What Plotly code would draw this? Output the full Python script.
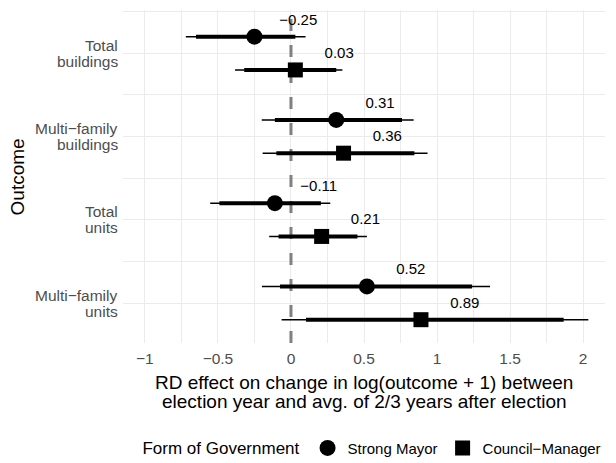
import plotly.graph_objects as go

# Outcomes, top to bottom (each label split over two lines)
outcome_line1 = ["Total", "Multi\u2212family", "Total", "Multi\u2212family"]
outcome_line2 = ["buildings", "buildings", "units", "units"]
outcome_pos = [4, 3, 2, 1]

# Strong Mayor estimates with 90% (inner) and 95% (outer) intervals
sm_est = [-0.25, 0.31, -0.11, 0.52]
sm_lo90 = [-0.65, -0.11, -0.49, -0.075]
sm_hi90 = [0.03, 0.76, 0.205, 1.24]
sm_lo95 = [-0.72, -0.20, -0.553, -0.199]
sm_hi95 = [0.10, 0.84, 0.269, 1.363]

# Council-Manager estimates with 90% (inner) and 95% (outer) intervals
cm_est = [0.03, 0.36, 0.21, 0.89]
cm_lo90 = [-0.32, -0.10, -0.085, 0.103]
cm_hi90 = [0.31, 0.845, 0.455, 1.867]
cm_lo95 = [-0.383, -0.194, -0.149, -0.064]
cm_hi95 = [0.352, 0.935, 0.52, 2.036]

x_ticks = [-1, -0.5, 0, 0.5, 1, 1.5, 2]
x_ticklabels = ["\u22121", "\u22120.5", "0", "0.5", "1", "1.5", "2"]

X_RANGE = [-1.15, 2.15]
Y_RANGE = [0.52, 4.52]
DODGE = 0.2
NUDGE_X = 0.3
NUDGE_Y = 0.19
FONT = "Liberation Sans"
GRID = "#EBEBEB"
AXIS_TEXT = "#4D4D4D"


def fmt(v):
    return f"{v:.2f}".replace("-", "\u2212")


def segments(lo, hi, ys):
    xs, yy = [], []
    for a, b, y in zip(lo, hi, ys):
        xs += [a, b, None]
        yy += [y, y, None]
    return xs, yy


fig = go.Figure()

# zero reference line, drawn first so intervals sit on top of it
fig.add_trace(go.Scatter(x=[0, 0], y=Y_RANGE, mode="lines",
                         line=dict(color="#808080", width=3, dash="12px,14px"),
                         showlegend=False, hoverinfo="skip"))

groups = [
    ("Strong Mayor", "circle", 16, +DODGE, sm_est, sm_lo90, sm_hi90, sm_lo95, sm_hi95),
    ("Council\u2212Manager", "square", 15, -DODGE, cm_est, cm_lo90, cm_hi90, cm_lo95, cm_hi95),
]

for name, symbol, size, off, est, lo90, hi90, lo95, hi95 in groups:
    ys = [p + off for p in outcome_pos]
    x95, y95 = segments(lo95, hi95, ys)
    fig.add_trace(go.Scatter(x=x95, y=y95, mode="lines", line=dict(color="black", width=1.5),
                             showlegend=False, hoverinfo="skip"))
    x90, y90 = segments(lo90, hi90, ys)
    fig.add_trace(go.Scatter(x=x90, y=y90, mode="lines", line=dict(color="black", width=4),
                             showlegend=False, hoverinfo="skip"))
    fig.add_trace(go.Scatter(x=est, y=ys, mode="markers", name=name,
                             marker=dict(symbol=symbol, size=size, color="black",
                                         line=dict(width=0))))
    fig.add_trace(go.Scatter(x=[v + NUDGE_X for v in est], y=[y + NUDGE_Y for y in ys],
                             mode="text", text=[fmt(v) for v in est],
                             textposition="middle center",
                             textfont=dict(family=FONT, size=15, color="black"),
                             showlegend=False, hoverinfo="skip"))

# y tick labels, right aligned, two lines each
for l1, l2, p in zip(outcome_line1, outcome_line2, outcome_pos):
    for txt, shift in ((l1, 8), (l2, -8)):
        fig.add_annotation(text=txt, xref="paper", yref="y", x=0, y=p, xanchor="right",
                           yanchor="middle", xshift=-3, yshift=shift, showarrow=False,
                           font=dict(family=FONT, size=15.5, color=AXIS_TEXT))

# y-axis title
fig.add_annotation(text="Outcome", xref="paper", yref="paper", x=-0.218, y=0.5,
                   xanchor="center", yanchor="middle", textangle=-90, showarrow=False,
                   font=dict(family=FONT, size=19, color="black"))

# x-axis title, two lines
fig.add_annotation(text="RD effect on change in log(outcome + 1) between", xref="paper", yref="paper",
                   x=0.5, y=-0.12, xanchor="center", yanchor="middle", showarrow=False,
                   font=dict(family=FONT, size=19, color="black"))
fig.add_annotation(text="election year and avg. of 2/3 years after election", xref="paper", yref="paper",
                   x=0.5, y=-0.177, xanchor="center", yanchor="middle", showarrow=False,
                   font=dict(family=FONT, size=19, color="black"))

fig.update_layout(
    width=616, height=463,
    margin=dict(l=123, r=11, t=10, b=120),
    paper_bgcolor="white", plot_bgcolor="white",
    font=dict(family=FONT, color="black"),
    xaxis=dict(range=X_RANGE, tickvals=x_ticks, ticktext=x_ticklabels,
               showgrid=True, gridcolor=GRID, gridwidth=1.2, zeroline=False, showline=False,
               ticks="", ticklabelstandoff=4,
               tickfont=dict(family=FONT, size=15.5, color=AXIS_TEXT),
               minor=dict(dtick=0.25, tick0=0, showgrid=True, gridcolor=GRID, gridwidth=0.8)),
    yaxis=dict(range=Y_RANGE, tickvals=outcome_pos, showticklabels=False,
               showgrid=True, gridcolor=GRID, gridwidth=1.2, zeroline=False, showline=False,
               ticks="",
               minor=dict(dtick=1, tick0=0.5, showgrid=True, gridcolor=GRID, gridwidth=0.8)),
    legend=dict(orientation="h", xref="container", yref="container",
                x=0.228, xanchor="left", y=0.032, yanchor="middle",
                title=dict(text="Form of Government", side="left", font=dict(family=FONT, size=17)),
                font=dict(family=FONT, size=15, color="black"), bgcolor="rgba(0,0,0,0)"),
    showlegend=True,
)

fig.write_html("out.html")
